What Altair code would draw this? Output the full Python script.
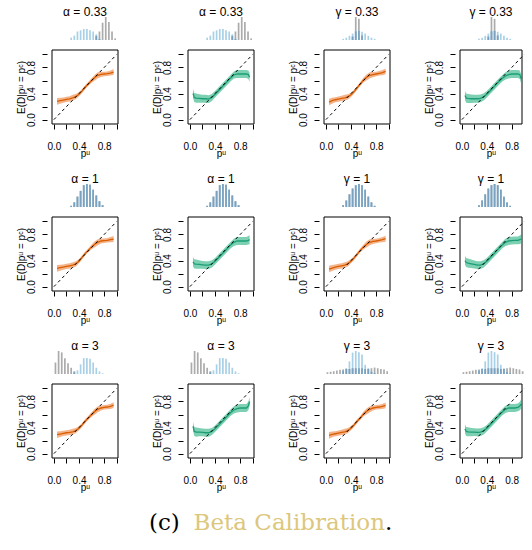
import altair as alt
import pandas as pd

# ---------------- data ----------------
BINS = [0.025, 0.075, 0.125, 0.175, 0.225, 0.275, 0.325, 0.375, 0.425, 0.475,
        0.525, 0.575, 0.625, 0.675, 0.725, 0.775, 0.825, 0.875, 0.925, 0.975]

A033_BLUE = [0, 0, 0, 0, 0, 0.10, 0.19, 0.37, 0.42, 0.48, 0.48, 0.42, 0.37, 0.25, 0.05, 0, 0, 0, 0, 0]
A033_GREY = [0, 0, 0, 0, 0, 0, 0, 0, 0, 0, 0, 0, 0, 0.18, 0.37, 0.75, 1.00, 0.78, 0.37, 0.07]
G033_BLUE = [0, 0, 0, 0, 0, 0.05, 0.10, 0.18, 0.28, 0.38, 0.40, 0.36, 0.28, 0.18, 0.10, 0.05, 0, 0, 0, 0]
G033_GREY = [0, 0, 0, 0, 0, 0, 0, 0, 0.15, 1.00, 0.92, 0.20, 0, 0, 0, 0, 0, 0, 0, 0]
A1_BLUE = [0, 0, 0, 0, 0, 0.05, 0.20, 0.45, 0.70, 0.95, 1.00, 0.97, 0.75, 0.50, 0.25, 0.08, 0, 0, 0, 0]
A1_GREY = [0, 0, 0, 0, 0, 0.05, 0.20, 0.45, 0.70, 0.95, 1.00, 0.97, 0.75, 0.50, 0.25, 0.08, 0, 0, 0, 0]
G1_BLUE = [0, 0, 0, 0, 0, 0.08, 0.28, 0.55, 0.80, 0.95, 1.00, 0.95, 0.75, 0.45, 0.20, 0.05, 0, 0, 0, 0]
G1_GREY = [0, 0, 0, 0, 0, 0.08, 0.28, 0.55, 0.80, 0.95, 1.00, 0.95, 0.75, 0.45, 0.20, 0.05, 0, 0, 0, 0]
A3_BLUE = [0, 0, 0, 0, 0, 0, 0.08, 0.16, 0.42, 0.69, 0.70, 0.66, 0.50, 0.27, 0.11, 0.03, 0, 0, 0, 0]
A3_GREY = [0.50, 1.00, 0.94, 0.69, 0.47, 0.27, 0.12, 0, 0, 0, 0, 0, 0, 0, 0, 0, 0, 0, 0, 0]
G3_BLUE = [0, 0, 0, 0, 0, 0.15, 0.25, 0.55, 0.93, 1.00, 0.95, 0.85, 0.40, 0.25, 0.10, 0.04, 0, 0, 0, 0]
G3_GREY = [0.08, 0.10, 0.12, 0.15, 0.18, 0.20, 0.22, 0.22, 0.25, 0.25, 0.25, 0.25, 0.22, 0.22, 0.25, 0.28, 0.25, 0.22, 0.20, 0.12]

XO = [0.05, 0.10, 0.15, 0.20, 0.25, 0.30, 0.35, 0.40, 0.45, 0.50, 0.55, 0.60, 0.65, 0.70, 0.75, 0.80, 0.85, 0.90, 0.95]
HW_O = [0.05, 0.045, 0.04, 0.04, 0.04, 0.045, 0.04, 0.032, 0.03, 0.03, 0.03, 0.035, 0.045, 0.045, 0.04, 0.035, 0.035, 0.04, 0.045]
O_R1C1 = [0.28, 0.29, 0.30, 0.31, 0.32, 0.335, 0.355, 0.39, 0.44, 0.50, 0.55, 0.60, 0.645, 0.68, 0.695, 0.70, 0.705, 0.715, 0.73]
O_R1C3 = [0.27, 0.29, 0.305, 0.315, 0.325, 0.335, 0.35, 0.38, 0.43, 0.49, 0.55, 0.61, 0.65, 0.68, 0.69, 0.70, 0.71, 0.72, 0.74]
O_R2C1 = [0.28, 0.29, 0.30, 0.31, 0.32, 0.33, 0.35, 0.39, 0.45, 0.51, 0.56, 0.61, 0.65, 0.68, 0.70, 0.705, 0.71, 0.72, 0.73]
O_R2C3 = [0.27, 0.285, 0.30, 0.31, 0.32, 0.33, 0.35, 0.39, 0.44, 0.50, 0.56, 0.61, 0.65, 0.68, 0.695, 0.70, 0.71, 0.72, 0.735]
O_R3C1 = [0.29, 0.30, 0.31, 0.32, 0.325, 0.335, 0.355, 0.39, 0.44, 0.50, 0.55, 0.60, 0.645, 0.68, 0.70, 0.71, 0.715, 0.725, 0.745]
O_R3C3 = [0.28, 0.295, 0.305, 0.315, 0.325, 0.335, 0.355, 0.39, 0.44, 0.50, 0.55, 0.61, 0.65, 0.68, 0.70, 0.71, 0.715, 0.725, 0.74]

XG = [0.05, 0.07, 0.10, 0.15, 0.20, 0.25, 0.30, 0.35, 0.40, 0.45, 0.50, 0.55, 0.60, 0.65, 0.70, 0.75, 0.80, 0.85, 0.90, 0.93, 0.95]
HW_G = [0.07, 0.07, 0.07, 0.065, 0.06, 0.06, 0.06, 0.055, 0.05, 0.05, 0.05, 0.05, 0.05, 0.05, 0.055, 0.06, 0.06, 0.06, 0.06, 0.065, 0.07]
G_R1C2 = [0.40, 0.34, 0.33, 0.325, 0.32, 0.32, 0.315, 0.34, 0.39, 0.44, 0.49, 0.54, 0.59, 0.64, 0.685, 0.70, 0.70, 0.70, 0.70, 0.69, 0.65]
G_R1C4 = [0.37, 0.33, 0.325, 0.32, 0.32, 0.32, 0.325, 0.35, 0.39, 0.44, 0.49, 0.54, 0.59, 0.635, 0.67, 0.69, 0.70, 0.70, 0.70, 0.69, 0.63]
G_R2C2 = [0.38, 0.35, 0.345, 0.34, 0.335, 0.33, 0.33, 0.35, 0.39, 0.44, 0.49, 0.54, 0.59, 0.64, 0.68, 0.70, 0.70, 0.70, 0.70, 0.71, 0.72]
G_R2C4 = [0.40, 0.37, 0.36, 0.35, 0.34, 0.33, 0.33, 0.35, 0.39, 0.44, 0.49, 0.54, 0.59, 0.64, 0.68, 0.70, 0.705, 0.71, 0.71, 0.72, 0.73]
G_R3C2 = [0.42, 0.34, 0.33, 0.33, 0.325, 0.32, 0.32, 0.34, 0.38, 0.43, 0.48, 0.53, 0.58, 0.63, 0.67, 0.69, 0.70, 0.70, 0.70, 0.73, 0.80]
G_R3C4 = [0.38, 0.34, 0.335, 0.33, 0.33, 0.325, 0.33, 0.35, 0.39, 0.44, 0.49, 0.54, 0.59, 0.64, 0.68, 0.70, 0.70, 0.70, 0.71, 0.73, 0.76]

DIAG_X = [0.0, 1.0]
DIAG_Y = [0.0, 1.0]

TITLES = [["α = 0.33", "α = 0.33", "γ = 0.33", "γ = 0.33"],
          ["α = 1", "α = 1", "γ = 1", "γ = 1"],
          ["α = 3", "α = 3", "γ = 3", "γ = 3"]]
HISTS = [[(A033_BLUE, A033_GREY), (A033_BLUE, A033_GREY), (G033_BLUE, G033_GREY), (G033_BLUE, G033_GREY)],
         [(A1_BLUE, A1_GREY), (A1_BLUE, A1_GREY), (G1_BLUE, G1_GREY), (G1_BLUE, G1_GREY)],
         [(A3_BLUE, A3_GREY), (A3_BLUE, A3_GREY), (G3_BLUE, G3_GREY), (G3_BLUE, G3_GREY)]]
CURVES = [[O_R1C1, G_R1C2, O_R1C3, G_R1C4],
          [O_R2C1, G_R2C2, O_R2C3, G_R2C4],
          [O_R3C1, G_R3C2, O_R3C3, G_R3C4]]

CAPTION_PARTS = ["(c)", "Beta Calibration", "."]

# ---------------- style ----------------
FONT = "Liberation Sans"
BLUE = "#a8d0e6"
GREY = "#ababab"
OVER = "#7aa2c0"
O_LINE, O_FILL = "#d95f02", "#f3b085"
G_LINE, G_FILL = "#1b9e77", "#76cdae"
YELLOW = "#dcc77c"

W, W_LAST = 76, 72
H_HIST, GAP, H_PLOT = 23, 10, 74
H_TOTAL = H_HIST + GAP + H_PLOT
X_DOM = [-0.03, 1.02]
X_DOM_LAST = [-0.03, 0.965]
Y_LO, Y_HI = -0.067, 1.068
# plot y scale spans the whole panel height; the frame covers only the plot part
PY_DOM = [Y_LO, Y_LO + (Y_HI - Y_LO) * H_TOTAL / H_PLOT]
# histogram y scale: 0..1 occupies the top H_HIST pixels
HY_DOM = [1 - H_TOTAL / H_HIST, 1]

LABEL_EXPR = ("abs(datum.value) < 0.001 || abs(datum.value - 0.4) < 0.001 || "
              "abs(datum.value - 0.8) < 0.001 ? format(datum.value, '.1f') : ''")


def make_panel(r, c):
    last = c == 3
    dom = X_DOM_LAST if last else X_DOM
    w = W_LAST if last else W
    xticks = [0, 0.2, 0.4, 0.6, 0.8] if last else [0, 0.2, 0.4, 0.6, 0.8, 1.0]
    xaxis = alt.Axis(values=xticks, labelExpr=LABEL_EXPR, tickSize=5, domain=False, grid=False,
                     title="pᵘ", labelPadding=12, titlePadding=-3, labelFontSize=10,
                     titleFontSize=10, labelFlush=False, labelFont=FONT, titleFont=FONT,
                     titleFontWeight="normal", labelColor="black", titleColor="black",
                     tickColor="black")
    yaxis = alt.Axis(values=[0, 0.2, 0.4, 0.6, 0.8, 1.0], labelExpr=LABEL_EXPR, labelAngle=270,
                     labelAlign="center", labelBaseline="bottom", tickSize=5, labelPadding=6,
                     domain=False, grid=False, title="E(D|pᵘ = pᶜ)", titlePadding=0,
                     titleY=H_HIST + GAP + H_PLOT / 2, orient="left",
                     titleFontSize=10, labelFontSize=10, labelFlush=False, labelFont=FONT,
                     titleFont=FONT, titleFontWeight="normal", labelColor="black",
                     titleColor="black", tickColor="black")
    xsc = alt.Scale(domain=dom, nice=False, zero=False)
    pys = alt.Scale(domain=PY_DOM, nice=False, zero=False)
    hys = alt.Scale(domain=HY_DOM, nice=False, zero=False)

    # histogram (top strip)
    blue, grey = HISTS[r][c]
    hdf = pd.DataFrame({"bin": BINS, "blue": blue, "grey": grey})
    hdf["ov"] = hdf[["blue", "grey"]].min(axis=1)
    hb = alt.Chart(hdf)
    xh = alt.X("bin:Q", scale=xsc, axis=xaxis)
    hist = alt.layer(
        hb.mark_bar(size=1.7, color=GREY, clip=True).encode(x=xh, y=alt.Y("grey:Q", scale=hys, axis=None)),
        hb.mark_bar(size=1.7, color=BLUE, clip=True).encode(x=xh, y=alt.Y("blue:Q", scale=hys, axis=None)),
        hb.mark_bar(size=1.7, color=OVER, clip=True).encode(x=xh, y=alt.Y("ov:Q", scale=hys, axis=None)),
    )

    # calibration plot (bottom)
    orange = c in (0, 2)
    xs = XO if orange else XG
    hw = HW_O if orange else HW_G
    ys = CURVES[r][c]
    cdf = pd.DataFrame({"x": xs, "y": ys,
                        "lo": [a - b for a, b in zip(ys, hw)],
                        "hi": [a + b for a, b in zip(ys, hw)]})
    ddf = pd.DataFrame({"x": DIAG_X, "y": DIAG_Y})
    fdf = pd.DataFrame({"x": [dom[0]], "x2": [dom[1]], "y": [Y_LO], "y2": [Y_HI]})
    X = alt.X("x:Q", scale=xsc, axis=xaxis)
    band = alt.Chart(cdf).mark_area(color=O_FILL if orange else G_FILL, opacity=0.95, clip=True).encode(
        x=X, y=alt.Y("lo:Q", scale=pys, axis=yaxis), y2="hi:Q")
    line = alt.Chart(cdf).mark_line(color=O_LINE if orange else G_LINE, strokeWidth=1.3, clip=True).encode(
        x=X, y=alt.Y("y:Q", scale=pys, axis=yaxis))
    diag = alt.Chart(ddf).mark_line(color="black", strokeDash=[3, 3], strokeWidth=1, clip=True).encode(
        x=X, y=alt.Y("y:Q", scale=pys, axis=yaxis))
    frame = alt.Chart(fdf).mark_rect(fill="transparent", stroke="black", strokeWidth=1).encode(
        x=X, x2="x2:Q", y=alt.Y("y:Q", scale=pys, axis=yaxis), y2="y2:Q")
    plot = alt.layer(band, line, diag, frame)

    parts = [hist, plot]
    if r == 2 and c == 0:
        cap_colors = ["black", YELLOW, "black"]
        cap_x = [102, 338, 338]
        cap_align = ["left", "right", "left"]
        for t, col, xx, al in zip(CAPTION_PARTS, cap_colors, cap_x, cap_align):
            parts.append(
                alt.Chart(alt.Data(values=[{"t": t}])).mark_text(
                    font="DejaVu Serif", fontSize=23, color=col, align=al, baseline="middle"
                ).encode(x=alt.value(xx), y=alt.value(H_TOTAL + 65), text="t:N")
            )

    return alt.layer(*parts).resolve_scale(y="independent").properties(
        width=w, height=H_TOTAL,
        title=alt.TitleParams(TITLES[r][c], fontSize=12, font=FONT, fontWeight="normal",
                              offset=-2, anchor="middle", color="black"),
    )


panels = [make_panel(r, c) for r in range(3) for c in range(4)]

chart = alt.concat(*panels, columns=4, spacing=60, bounds="flush", align="each").properties(
    padding={"left": 15, "top": 5, "right": 0, "bottom": 0}
).configure_view(stroke="transparent").configure_axis(grid=False)

chart.save("out.html", embed_options={"renderer": "svg", "actions": False})
